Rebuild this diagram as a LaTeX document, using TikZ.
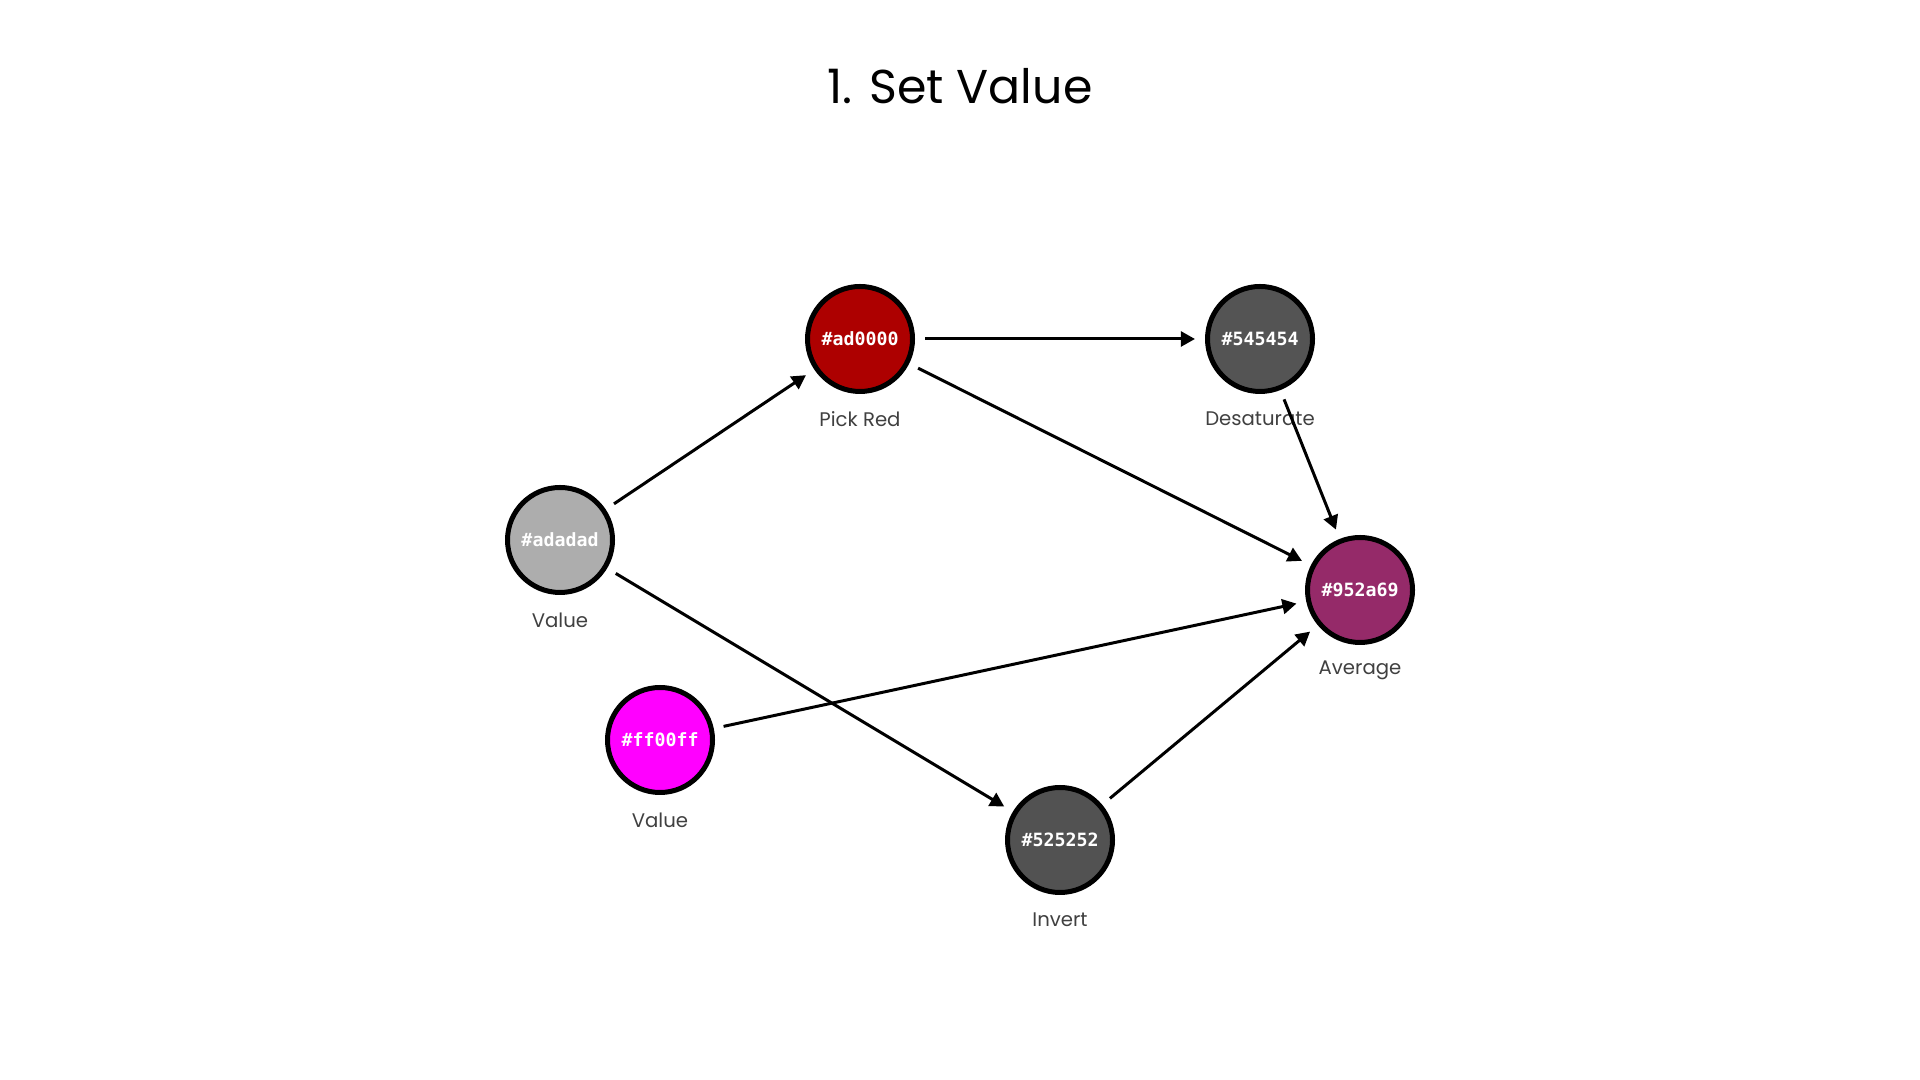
\documentclass[tikz,border=0pt]{standalone}
\usepackage{fontspec}
\setmainfont{Poppins}
\newfontfamily\hexfont{DejaVu Sans Mono}
\usetikzlibrary{arrows.meta, positioning}
\definecolor{grayval}{HTML}{ADADAD}
\definecolor{redpick}{HTML}{AD0000}
\definecolor{desat}{HTML}{545454}
\definecolor{avgcol}{HTML}{952A69}
\definecolor{magval}{HTML}{FF00FF}
\definecolor{invcol}{HTML}{525252}

\begin{document}
\begin{tikzpicture}[
    colnode/.style={circle, draw=black, line width=0.05cm, minimum size=1.05cm,
                    inner sep=0pt, outer sep=0.125cm, text=white,
                    font=\hexfont\bfseries\fontsize{5.2pt}{6pt}\selectfont},
    lbl/.style={font=\fontsize{5.6pt}{7pt}\selectfont, text=black!75},
    line/.style={-{Triangle[length=4pt, width=4.2pt]}, line width=0.85pt, draw=black}]

    \useasboundingbox (0,0) rectangle (19.2,10.8);
    \node[font=\fontsize{13.5pt}{16pt}\selectfont] (title) at (9.6,9.94) {1. Set Value};

    % Nodes
    \node[colnode, fill=grayval] (val1) at (5.6,5.4)  {\#adadad};
    \node[colnode, fill=redpick] (pick) at (8.6,7.41) {\#ad0000};
    \node[colnode, fill=desat]   (desa) at (12.6,7.41) {\#545454};
    \node[colnode, fill=avgcol]  (avg)  at (13.6,4.9) {\#952a69};
    \node[colnode, fill=magval]  (val2) at (6.6,3.4)  {\#ff00ff};
    \node[colnode, fill=invcol]  (inv)  at (10.6,2.4) {\#525252};

    % Labels
    \node[lbl] (val1l) at (5.6,4.6)  {Value};
    \node[lbl] (pickl) at (8.6,6.61) {Pick Red};
    \node[lbl] (desal) at (12.6,6.61) {Desaturate};
    \node[lbl] (avgl)  at (13.6,4.1) {Average};
    \node[lbl] (val2l) at (6.6,2.6)  {Value};
    \node[lbl] (invl)  at (10.6,1.6) {Invert};

    % Connections
    \draw[line] (val1) -- (pick);
    \draw[line] (val1) -- (inv);
    \draw[line] (pick) -- (desa);
    \draw[line] (pick) -- (avg);
    \draw[line] (desa) -- (avg);
    \draw[line] (val2) -- (avg);
    \draw[line] (inv) -- (avg);
\end{tikzpicture}
\end{document}
